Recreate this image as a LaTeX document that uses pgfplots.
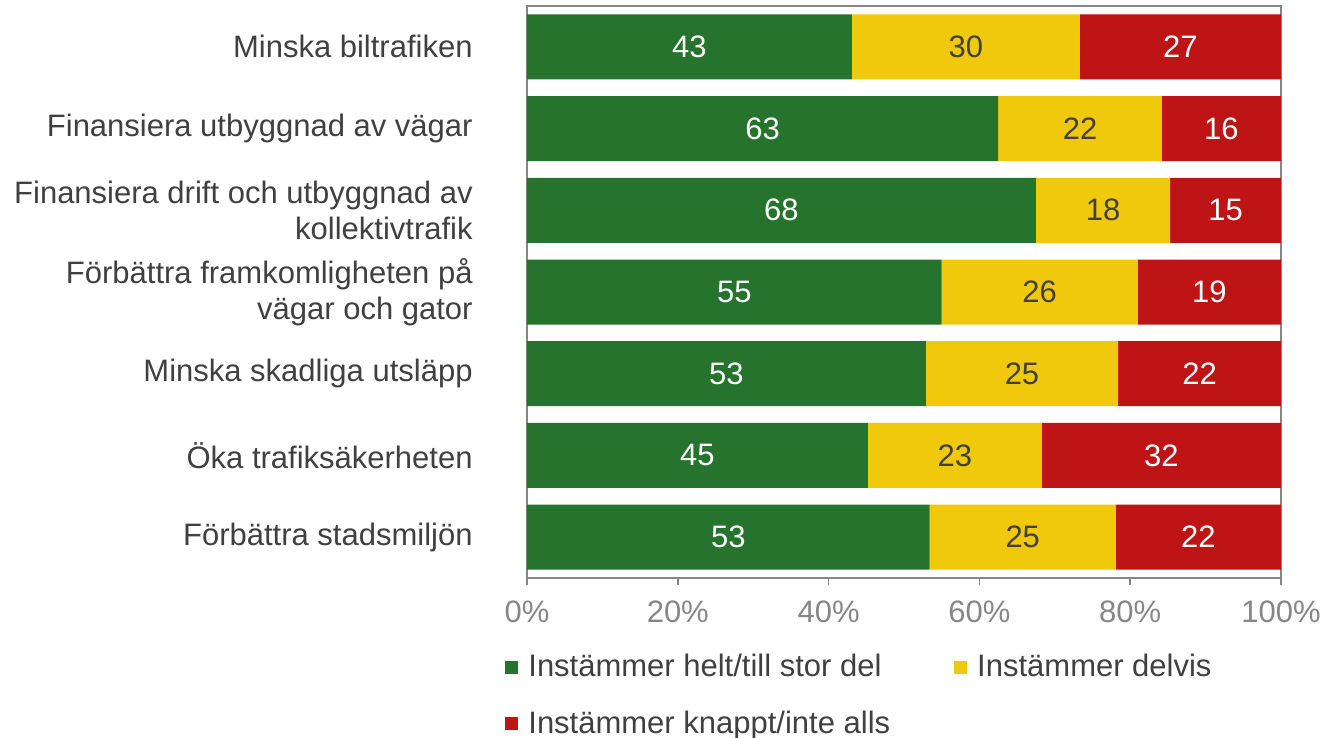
\documentclass[border=0pt]{standalone}
\usepackage{pgfplots}
\usepackage{pgfplotstable}
\pgfplotsset{compat=1.18}
\usepackage{fontspec}
\setmainfont{Liberation Sans}

\definecolor{cgreen}{RGB}{38,115,46}
\definecolor{cyellow}{RGB}{240,200,12}
\definecolor{cred}{RGB}{190,20,22}
\definecolor{ctext}{RGB}{64,64,64}
\definecolor{cgrey}{RGB}{134,134,134}
\newcommand{\lbl}{\fontsize{15.5pt}{18pt}\selectfont}

% share of each bar (%) and the printed label
\pgfplotstableread{
y g    lg ye   lye r    lr
1 43.1 43 30.2 30  26.7 27
2 62.5 63 21.7 22  15.8 16
3 67.5 68 17.8 18  14.7 15
4 55.0 55 26.0 26  19.0 19
5 52.9 53 25.5 25  21.6 22
6 45.2 45 23.1 23  31.7 32
7 53.4 53 24.7 25  21.9 22
}\data

\begin{document}
\begin{tikzpicture}
\path[use as bounding box] (-263.5pt,-80pt) rectangle (400.5pt,289pt);
\begin{axis}[
    xbar stacked,
    scale only axis,
    width=377pt, height=286pt,
    bar width=32.5pt,
    xmin=0, xmax=100,
    ymin=0.5, ymax=7.5,
    y dir=reverse,
    axis line style={cgrey, line width=0.8pt},
    xtick={0,20,40,60,80,100},
    xticklabels={0\%,20\%,40\%,60\%,80\%,100\%},
    x tick style={cgrey, line width=0.8pt},
    major tick length=3.5pt,
    tick align=outside,
    xtick pos=bottom,
    x tick label style={font=\lbl, text=cgrey, inner sep=0pt, anchor=north, yshift=-7.5pt},
    ytick={1,...,7},
    yticklabels={Minska biltrafiken,
      Finansiera utbyggnad av vägar,
      Finansiera drift och utbyggnad av\\kollektivtrafik,
      Förbättra framkomligheten på\\vägar och gator,
      Minska skadliga utsläpp,
      Öka trafiksäkerheten,
      Förbättra stadsmiljön},
    y tick style={draw=none},
    y tick label style={font=\lbl, text=ctext, align=right, inner sep=0pt, anchor=east, xshift=-23.5pt},
    nodes near coords,
    point meta=explicit symbolic,
    every node near coord/.append style={font=\lbl, anchor=center},
    legend columns=2,
    legend cell align=left,
    legend image code/.code={\fill[#1] (0pt,-3.25pt) rectangle (6.5pt,3.25pt);},
    legend style={at={(0,0)}, anchor=north west, xshift=-11pt, yshift=-36pt,
      draw=none, fill=none, inner sep=0pt, font=\lbl, text=ctext,
      row sep=11.5pt,
      /tikz/every odd column/.append style={column sep=3pt},
      /tikz/every even column/.append style={column sep=30pt}},
]
\addplot[fill=cgreen, draw=none, every node near coord/.append style={text=white}]
  table[x=g, y=y, meta=lg] {\data};
\addplot[fill=cyellow, draw=none, every node near coord/.append style={text=ctext}]
  table[x=ye, y=y, meta=lye] {\data};
\addplot[fill=cred, draw=none, every node near coord/.append style={text=white}]
  table[x=r, y=y, meta=lr] {\data};
\legend{Instämmer helt/till stor del, Instämmer delvis, Instämmer knappt/inte alls}
\end{axis}
\end{tikzpicture}
\end{document}
